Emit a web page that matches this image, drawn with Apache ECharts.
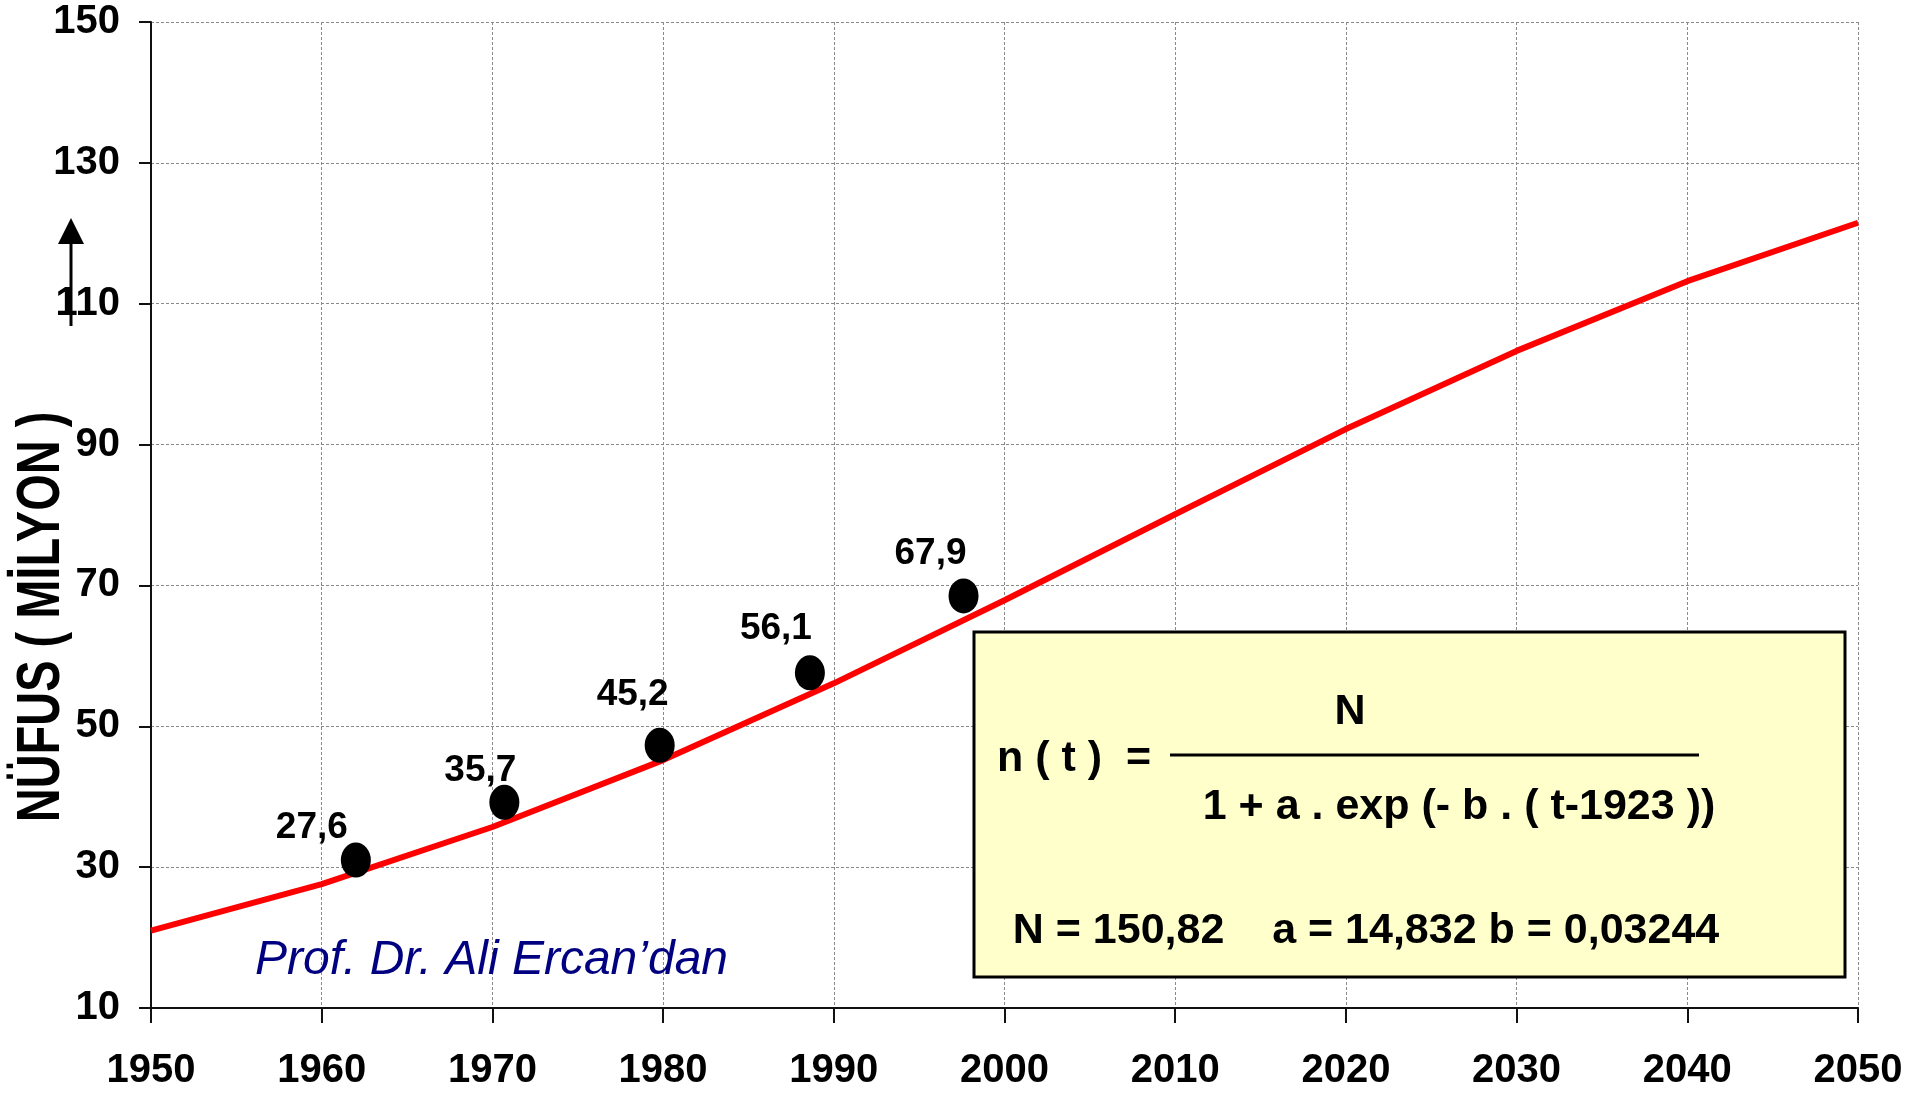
<!DOCTYPE html>
<html>
<head>
<meta charset="utf-8">
<script src="https://cdn.jsdelivr.net/npm/echarts@6/dist/echarts.min.js"></script>
<style>
html,body{margin:0;padding:0;background:#fff;}
#chart{width:1907px;height:1096px;}
</style>
</head>
<body>
<div id="chart"></div>
<script>
// ---- data ----
const modelYears = [1950, 1960, 1970, 1980, 1990, 2000, 2010, 2020, 2030, 2040, 2050];
const modelValues = [21.0, 27.6, 35.7, 45.2, 56.1, 67.9, 80.1, 92.2, 103.3, 113.2, 121.5];
const obsYears = [1962.0, 1970.7, 1979.8, 1988.6, 1997.6];
const obsValues = [31.0, 39.2, 47.3, 57.6, 68.5];
const obsLabels = ['27,6', '35,7', '45,2', '56,1', '67,9'];
const yTickValues = [10, 30, 50, 70, 90, 110, 130, 150];
const xTickValues = [1950, 1960, 1970, 1980, 1990, 2000, 2010, 2020, 2030, 2040, 2050];
const yAxisTitle = 'NÜFUS ( MİLYON )';
const creditText = 'Prof. Dr. Ali Ercan’dan';
const formulaLeft = 'n ( t )  =';
const formulaNum = 'N';
const formulaDen = '1 + a . exp (- b . ( t-1923 ))';
const formulaParams = 'N = 150,82    a = 14,832 b = 0,03244';

// ---- styling ----
const labelOffsets = [[-44, -32], [-24, -32], [-27, -51], [-34, -44], [-33, -42]];
const FONT = '"Liberation Sans", Arial, sans-serif';

const chart = echarts.init(document.getElementById('chart'), null, {renderer: 'canvas'});

const gridLine = {show: true, lineStyle: {color: '#8a8a8a', width: 1, type: [3, 2]}};

chart.setOption({
  animation: false,
  backgroundColor: '#ffffff',
  grid: {left: 151, right: 49, top: 22, bottom: 88, outerBoundsMode: 'none', containLabel: false},
  xAxis: {
    type: 'value',
    min: 1950, max: 2050, interval: 10,
    axisLine: {show: true, onZero: false, lineStyle: {color: '#111', width: 2}},
    axisTick: {show: true, length: 15, lineStyle: {color: '#111', width: 2}, customValues: xTickValues},
    axisLabel: {
      show: true, margin: 43, color: '#000', fontSize: 40, fontWeight: 'bold', fontFamily: FONT,
      customValues: xTickValues, formatter: v => String(v), showMinLabel: true, showMaxLabel: true
    },
    splitLine: gridLine
  },
  yAxis: {
    type: 'value',
    min: 10, max: 150,
    axisLine: {show: true, onZero: false, lineStyle: {color: '#111', width: 2}},
    axisTick: {show: true, length: 12, lineStyle: {color: '#111', width: 2}, customValues: yTickValues},
    axisLabel: {
      show: true, margin: 31, color: '#000', fontSize: 40, fontWeight: 'bold', fontFamily: FONT,
      customValues: yTickValues, showMinLabel: true, showMaxLabel: true
    },
    splitLine: gridLine
  },
  series: [
    {
      type: 'line',
      data: modelYears.map((y, i) => [y, modelValues[i]]),
      showSymbol: false,
      lineStyle: {color: '#ff0000', width: 6},
      itemStyle: {color: '#ff0000'},
      z: 2
    },
    {
      type: 'scatter',
      symbol: 'circle',
      symbolSize: [30, 35],
      itemStyle: {color: '#000', opacity: 1},
      emphasis: {disabled: true},
      data: obsYears.map((x, i) => ({
        value: [x, obsValues[i]],
        label: {offset: labelOffsets[i]}
      })),
      label: {
        show: true, position: 'inside',
        formatter: p => obsLabels[p.dataIndex],
        color: '#000', fontSize: 37, fontWeight: 'bold', fontFamily: FONT
      },
      z: 3
    }
  ],
  graphic: [
    // y-axis title
    {
      type: 'text', x: 42, y: 617, rotation: Math.PI / 2, scaleX: 0.77,
      style: {text: yAxisTitle, font: 'bold 61px ' + FONT, fill: '#000', align: 'center', verticalAlign: 'middle'},
      z: 10
    },
    // arrow
    {type: 'line', shape: {x1: 71, y1: 326, x2: 71, y2: 240}, style: {stroke: '#000', lineWidth: 3}, z: 10},
    {type: 'polygon', shape: {points: [[71, 218], [58, 244], [84, 244]]}, style: {fill: '#000'}, z: 10},
    // credit
    {
      type: 'text', x: 255, y: 961,
      style: {text: creditText, font: 'italic 48px ' + FONT, fill: '#000080', align: 'left', verticalAlign: 'middle'},
      z: 10
    },
    // formula box
    {
      type: 'rect', shape: {x: 974, y: 632, width: 871, height: 345},
      style: {fill: '#ffffcc', stroke: '#000', lineWidth: 3}, z: 20
    },
    {
      type: 'text', x: 997, y: 759,
      style: {text: formulaLeft, font: 'bold 43px ' + FONT, fill: '#000', align: 'left', verticalAlign: 'middle'},
      z: 21
    },
    {
      type: 'text', x: 1350, y: 712,
      style: {text: formulaNum, font: 'bold 43px ' + FONT, fill: '#000', align: 'center', verticalAlign: 'middle'},
      z: 21
    },
    {type: 'line', shape: {x1: 1170, y1: 755, x2: 1699, y2: 755}, style: {stroke: '#000', lineWidth: 3}, z: 21},
    {
      type: 'text', x: 1459, y: 807,
      style: {text: formulaDen, font: 'bold 43px ' + FONT, fill: '#000', align: 'center', verticalAlign: 'middle'},
      z: 21
    },
    {
      type: 'text', x: 1366, y: 931,
      style: {text: formulaParams, font: 'bold 43px ' + FONT, fill: '#000', align: 'center', verticalAlign: 'middle'},
      z: 21
    }
  ]
});
</script>
</body>
</html>
